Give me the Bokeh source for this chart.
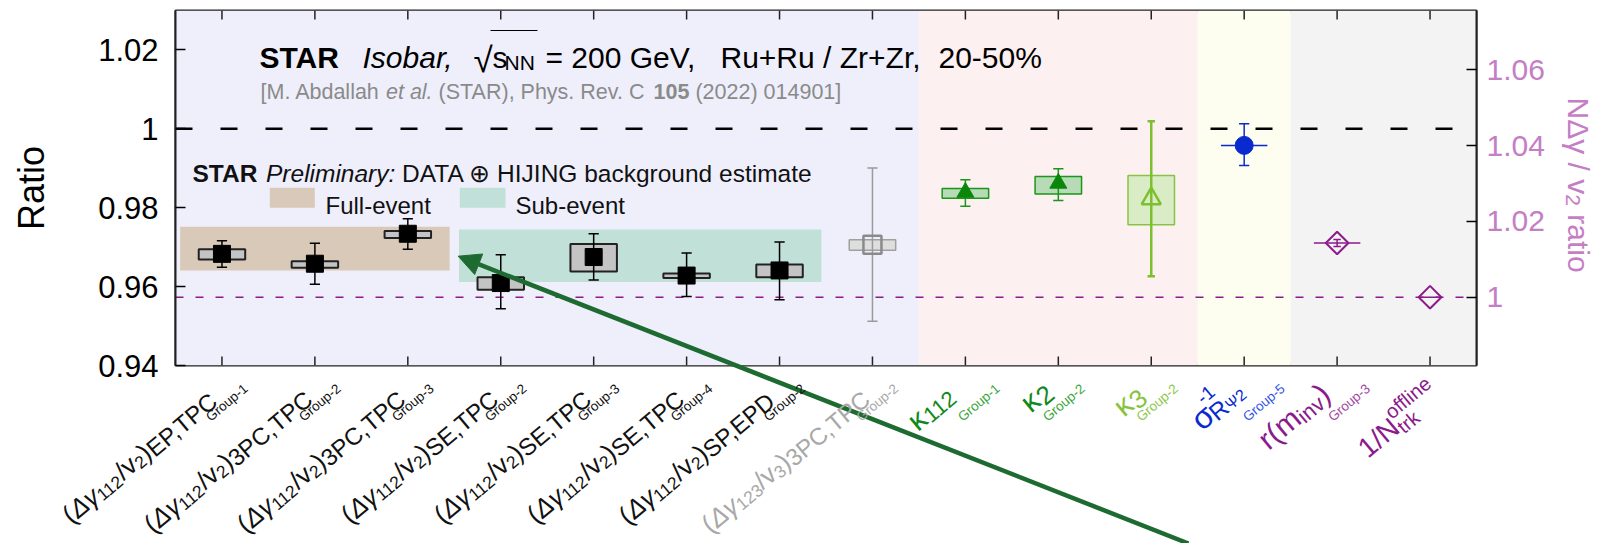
import math
from bokeh.plotting import figure
from bokeh.layouts import column
from bokeh.models import (Range1d, LinearAxis, FixedTicker, NumeralTickFormatter,
                          Label, Arrow, NormalHead)
from bokeh.embed import file_html
from bokeh.resources import INLINE

FONT = "Liberation Sans"

# ---------------- data ----------------
dg112_x = [0, 1, 2, 3, 4, 5, 6]
dg112_val = [0.9683, 0.9658, 0.9734, 0.9609, 0.9675, 0.9628, 0.9641]
dg112_stat_lo = [0.9649, 0.9606, 0.9695, 0.9544, 0.9617, 0.9575, 0.9567]
dg112_stat_hi = [0.9716, 0.9710, 0.9772, 0.9681, 0.9734, 0.9685, 0.9713]
dg112_sys_lo = [0.9669, 0.9648, 0.9723, 0.9592, 0.9638, 0.9622, 0.9624]
dg112_sys_hi = [0.9695, 0.9664, 0.9741, 0.9624, 0.9708, 0.9633, 0.9656]

dg123_x = [7]
dg123_val = [0.9706]
dg123_stat_lo = [0.9512]
dg123_stat_hi = [0.9901]
dg123_sys_lo = [0.9692]
dg123_sys_hi = [0.9719]

kappa_x = [8, 9]
kappa_val = [0.9839, 0.9862]
kappa_stat_lo = [0.9804, 0.9818]
kappa_stat_hi = [0.9871, 0.9899]
kappa_sys_lo = [0.9824, 0.9835]
kappa_sys_hi = [0.9849, 0.9879]

kappa3_x = [10]
kappa3_val = [0.9823]
kappa3_stat_lo = [0.9626]
kappa3_stat_hi = [1.0019]
kappa3_sys_lo = [0.9757]
kappa3_sys_hi = [0.9882]

sigma_x = [11]
sigma_val = [0.9958]
sigma_stat_lo = [0.9907]
sigma_stat_hi = [1.0013]
sigma_xerr = [0.25]

# right axis (N Delta gamma / v2 ratio)
nratio_x = [12, 13]
nratio_val = [1.0143, 1.0000]
nratio_stat_lo = [1.0134, 1.0000]
nratio_stat_hi = [1.0152, 1.0000]
nratio_xerr = [0.25, 0.13]

full_event_band = [-0.45, 2.45, 0.9641, 0.9752]   # x0, x1, y0, y1
sub_event_band = [2.55, 6.45, 0.9612, 0.9745]

region_edges = [-0.5, 7.5, 10.5, 11.5, 13.5]
region_colors = ["#efeffc", "#fdf0f0", "#fefef0", "#f3f3f3"]

left_ticks = [0.94, 0.96, 0.98, 1.0, 1.02]
right_ticks = [1.0, 1.02, 1.04, 1.06]
x_ticks = list(range(14))

tick_rest = ["EP,TPC", "3PC,TPC", "3PC,TPC", "SE,TPC", "SE,TPC", "SE,TPC", "SP,EPD", "3PC,TPC"]
tick_order = ["112", "112", "112", "112", "112", "112", "112", "123"]
tick_vn = ["2", "2", "2", "2", "2", "2", "2", "3"]
tick_groups = ["Group-1", "Group-2", "Group-3", "Group-2", "Group-3", "Group-4", "Group-2",
               "Group-2", "Group-1", "Group-2", "Group-2", "Group-5", "Group-3", ""]

XR = (-0.5, 13.5)
YR = (0.94, 1.03)
YR_RIGHT = (0.98198, 1.07565)

# ---------------- geometry helpers (page px -> data) ----------------
W, H = 1608, 543
FL, FR, FT, FB = 175.0, 1476.0, 10.0, 365.0


def dx(X):
    return XR[0] + (X - FL) / (FR - FL) * (XR[1] - XR[0])


def dy(Y):
    return YR[0] + (FB - Y) / (FB - FT) * (YR[1] - YR[0])


def px(x):
    return FL + (x - XR[0]) / (XR[1] - XR[0]) * (FR - FL)


AW = {' ': 278, '(': 333, ')': 333, '+': 584, ',': 278, '-': 333, '.': 278, '/': 278,
      ':': 278, '=': 584, '[': 278, ']': 278, '%': 889,
      'A': 667, 'B': 667, 'C': 722, 'D': 722, 'E': 667, 'F': 611, 'G': 778, 'H': 722,
      'I': 278, 'J': 500, 'K': 667, 'L': 556, 'M': 833, 'N': 722, 'O': 778, 'P': 667,
      'Q': 778, 'R': 722, 'S': 667, 'T': 611, 'U': 722, 'V': 667, 'W': 944, 'X': 667,
      'Y': 667, 'Z': 611,
      'a': 556, 'b': 556, 'c': 500, 'd': 556, 'e': 556, 'f': 278, 'g': 556, 'h': 556,
      'i': 222, 'j': 222, 'k': 500, 'l': 222, 'm': 833, 'n': 556, 'o': 556, 'p': 556,
      'q': 556, 'r': 333, 's': 500, 't': 278, 'u': 556, 'v': 500, 'w': 722, 'x': 500,
      'y': 500, 'z': 500, 'Δ': 668, 'γ': 500, 'κ': 520, 'σ': 570, 'Ψ': 800,
      '√': 549, '⊕': 800}
BW = {'A': 722, 'R': 722, 'S': 667, 'T': 611, 'r': 389, 'a': 556}


def textw(t, size, style="normal"):
    tot = 0
    for ch in t:
        w = AW.get(ch, 556)
        if style == "bold":
            w = BW.get(ch, w)
        tot += w
    return tot * size / 1000.0


# ================= main plot =================
p = figure(width=W, height=H, output_backend="svg", toolbar_location=None,
           x_range=Range1d(*XR), y_range=Range1d(*YR),
           min_border_left=int(FL), min_border_right=int(W - FR), min_border_top=int(FT),
           min_border_bottom=int(H - FB))
p.extra_y_ranges = {"right": Range1d(*YR_RIGHT)}
p.background_fill_color = "white"
p.border_fill_color = "white"
p.outline_line_color = "#222222"
p.outline_line_width = 2
p.xgrid.visible = False
p.ygrid.visible = False
p.xaxis.visible = False

ya = p.yaxis[0]
ya.ticker = FixedTicker(ticks=left_ticks)
ya.formatter = NumeralTickFormatter(format="0.[00]")
ya.major_tick_in = 10
ya.major_tick_out = 0
ya.minor_tick_line_color = None
ya.major_tick_line_width = 1.5
ya.axis_line_width = 2
ya.axis_line_color = "#222222"
ya.major_label_text_font = FONT
ya.major_label_text_font_size = "31px"
ya.major_label_text_color = "black"
ya.major_label_standoff = 17
ya.axis_label = "Ratio"
ya.axis_label_text_font = FONT
ya.axis_label_text_font_size = "36px"
ya.axis_label_text_font_style = "normal"
ya.axis_label_text_color = "black"
ya.axis_label_standoff = 43

ra = LinearAxis(y_range_name="right", ticker=FixedTicker(ticks=right_ticks),
                formatter=NumeralTickFormatter(format="0.[00]"))
ra.major_tick_in = 10
ra.major_tick_out = 0
ra.minor_tick_line_color = None
ra.major_tick_line_width = 1.5
ra.axis_line_width = 2
ra.axis_line_color = "#222222"
ra.major_label_text_font = FONT
ra.major_label_text_font_size = "30px"
ra.major_label_text_color = "#c47ec4"
ra.major_label_standoff = 10
p.add_layout(ra, "right")

# backgrounds
p.quad(left=region_edges[:-1], right=region_edges[1:], bottom=[YR[0]] * 4, top=[YR[1]] * 4,
       fill_color=region_colors, line_color=None)
p.quad(left=[full_event_band[0]], right=[full_event_band[1]],
       bottom=[full_event_band[2]], top=[full_event_band[3]],
       fill_color="#d9c9b8", line_color=None)
p.quad(left=[sub_event_band[0]], right=[sub_event_band[1]],
       bottom=[sub_event_band[2]], top=[sub_event_band[3]],
       fill_color="#c0e0d8", line_color=None)

# top / bottom inward ticks
tick_len = 9 / (FB - FT) * (YR[1] - YR[0])
p.segment(x0=x_ticks, x1=x_ticks, y0=[YR[1]] * 14, y1=[YR[1] - tick_len] * 14,
          line_color="#222222", line_width=1.5)
p.segment(x0=x_ticks, x1=x_ticks, y0=[YR[0]] * 14, y1=[YR[0] + tick_len] * 14,
          line_color="#222222", line_width=1.5)

# reference lines
p.line(x=[XR[0], dx(1453)], y=[1.0, 1.0],
       line_color="black", line_width=2.5, line_dash="17 28")
p.line(x=list(XR), y=[1.0, 1.0], y_range_name="right",
       line_color="#8b1a8b", line_width=1.5, line_dash="8 12")

BOXW = 0.25
CAP = 0.055


def errbars(x, lo, hi, color, width, cap, **kw):
    p.segment(x0=x, x1=x, y0=lo, y1=hi, line_color=color, line_width=width, **kw)
    if cap:
        p.segment(x0=[v - cap for v in x], x1=[v + cap for v in x], y0=lo, y1=lo,
                  line_color=color, line_width=width, **kw)
        p.segment(x0=[v - cap for v in x], x1=[v + cap for v in x], y0=hi, y1=hi,
                  line_color=color, line_width=width, **kw)


def sysbox(x, lo, hi, fill, line, width=1.5):
    p.quad(left=[v - BOXW for v in x], right=[v + BOXW for v in x], bottom=lo, top=hi,
           fill_color=fill, line_color=line, line_width=width)


sysbox(dg112_x, dg112_sys_lo, dg112_sys_hi, "#c4c4c4", "#222222", 2)
errbars(dg112_x, dg112_stat_lo, dg112_stat_hi, "black", 1.5, CAP)
p.scatter(dg112_x, dg112_val, marker="square", size=17, fill_color="black", line_color="black")

sysbox(dg123_x, dg123_sys_lo, dg123_sys_hi, "#dedede", "#a0a0a0", 1.5)
errbars(dg123_x, dg123_stat_lo, dg123_stat_hi, "#9a9a9a", 1.5, CAP)
p.scatter(dg123_x, dg123_val, marker="square", size=18, fill_alpha=0,
          line_color="#8a8a8a", line_width=2.5)

sysbox(kappa_x, kappa_sys_lo, kappa_sys_hi, "#b6dbb6", "#1a961a", 1.5)
errbars(kappa_x, kappa_stat_lo, kappa_stat_hi, "#1a961a", 1.5, CAP)
p.scatter(kappa_x, kappa_val, marker="triangle", size=17, fill_color="#0a870a",
          line_color="#0a870a")

sysbox(kappa3_x, kappa3_sys_lo, kappa3_sys_hi, "#d9ecc6", "#88c444", 1.5)
errbars(kappa3_x, kappa3_stat_lo, kappa3_stat_hi, "#7cbf2f", 2.5, 0.04)
p.scatter(kappa3_x, kappa3_val, marker="triangle", size=19, fill_alpha=0,
          line_color="#7cbf2f", line_width=2.5)

errbars(sigma_x, sigma_stat_lo, sigma_stat_hi, "#0a2ad0", 1.5, CAP)
p.segment(x0=[v - e for v, e in zip(sigma_x, sigma_xerr)],
          x1=[v + e for v, e in zip(sigma_x, sigma_xerr)],
          y0=sigma_val, y1=sigma_val, line_color="#0a2ad0", line_width=1.5)
p.scatter(sigma_x, sigma_val, marker="circle", size=18, fill_color="#0a2ad0", line_color="#0a2ad0")

p.segment(x0=[v - e for v, e in zip(nratio_x, nratio_xerr)],
          x1=[v + e for v, e in zip(nratio_x, nratio_xerr)],
          y0=nratio_val, y1=nratio_val, line_color="#8b1a8b", line_width=1.5,
          y_range_name="right")
errbars(nratio_x[:1], nratio_stat_lo[:1], nratio_stat_hi[:1], "#8b1a8b", 1.5, 0.04,
        y_range_name="right")
p.scatter(nratio_x, nratio_val, marker="square", angle=math.pi / 4, size=16, fill_alpha=0,
          line_color="#8b1a8b", line_width=2, y_range_name="right")


# ---------------- text helpers ----------------
def put_text(fig, text, X, Y, size, color, style="normal", angle=0.0, align="left",
             baseline="alphabetic"):
    fig.add_layout(Label(x=dx(X), y=dy(Y), text=text, angle=angle, text_font=FONT,
                         text_font_size=f"{size}px", text_color=color,
                         text_font_style=style, text_align=align,
                         text_baseline=baseline))


def put_run(fig, pieces, X, Y, size, color):
    x = X
    for t, st in pieces:
        lead = len(t) - len(t.lstrip(" "))
        x0 = x + textw(" " * lead, size, st)
        put_text(fig, t.strip(" "), x0, Y, size, color, st)
        x += textw(t, size, st)


def put_rotated(fig, segs, AX, AY, a, color, align_end=True):
    ca, sa = math.cos(a), math.sin(a)
    total = sum(textw(t, s, st) for (t, s, v, st, adv) in segs if adv)
    u = -total if align_end else 0.0
    for t, s, v, st, adv in segs:
        lead = len(t) - len(t.lstrip(" "))
        uu = u + textw(" " * lead, s, st)
        X = AX + uu * ca - v * sa
        Y = AY - uu * sa - v * ca
        put_text(fig, t.strip(" "), X, Y, s, color, st, angle=a)
        if adv:
            u += textw(t, s, st)


# title inside the frame
put_text(p, "STAR", 259, 57, 30, "black", "bold")
put_text(p, "Isobar,", 362, 57, 30, "black", "italic")
put_text(p, "√", 473, 59, 35, "black")
put_text(p, "s", 492, 57, 30, "black")
put_text(p, "NN", 504, 62, 21, "black")
p.segment(x0=[dx(490)], x1=[dx(537)], y0=[dy(30)], y1=[dy(30)], line_color="black", line_width=1.2)
put_text(p, "= 200 GeV,", 545, 57, 30, "black")
put_text(p, "Ru+Ru / Zr+Zr,", 720, 57, 30, "black")
put_text(p, "20-50%", 938, 57, 30, "black")

put_run(p, [("[M. Abdallah ", "normal"), ("et al.", "italic"), (" (STAR), Phys. Rev. C ", "normal"),
            ("105", "bold"), (" (2022) 014901]", "normal")], 260, 91, 21.5, "#8a8a8a")

put_run(p, [("STAR", "bold"), (" Preliminary:", "italic"),
            (" DATA ⊕ HIJING background estimate", "normal")], 192, 173, 24.5, "#111111")

# legend swatches
p.quad(left=[dx(269.3), dx(459.3)], right=[dx(314.3), dx(505)],
       bottom=[dy(207.3)] * 2, top=[dy(187.3)] * 2,
       fill_color=["#d9c9b8", "#c0e0d8"], line_color=None)
put_text(p, "Full-event", 325, 205, 24, "#111111")
put_text(p, "Sub-event", 515, 205, 24, "#111111")

# ================= transparent overlay for texts outside the frame =================
q = figure(width=W, height=H, output_backend="svg", toolbar_location=None,
           x_range=Range1d(dx(0), dx(W)), y_range=Range1d(dy(H), dy(0)),
           x_axis_location=None, y_axis_location=None,
           min_border=0, min_border_left=0, min_border_right=0, min_border_top=0,
           min_border_bottom=0)
q.background_fill_color = None
q.border_fill_color = None
q.outline_line_color = None
q.xgrid.visible = False
q.ygrid.visible = False
q.margin = (-H, 0, 0, 0)
if "frame_align" in q.properties():
    q.frame_align = False
else:
    q.x_range = Range1d(*XR)

# arrow
q.add_layout(Arrow(end=NormalHead(size=22, fill_color="#1e6b32", line_color="#1e6b32"),
                   x_start=dx(1188), y_start=dy(543), x_end=dx(457.7), y_end=dy(255.7),
                   line_color="#1e6b32", line_width=4.5))

# right axis title (reads top to bottom)
put_rotated(q, [("NΔγ / v", 30, 0, "normal", True), ("2", 21, -6, "normal", True),
                (" ratio", 30, 0, "normal", True)], 1578, 97, -math.pi / 2, "#c47ec4",
            align_end=False)

# x tick labels
A = math.radians(40)
S, SS, S2 = 26, 17.5, 24
anchor_dx = [-8, -8, -8, -8, -8, -8, -8, -8, -14, -11, -11, -5.5, -11.5, -17.7]
anchor_y = [393, 393, 393, 393, 393, 393, 393, 393, 390, 386, 390, 386, 389, 409]
group_dx = [-14, -14, -14, -14, -14, -14, -14, -14, -5.5, -13.4, -13, 0.7, -7, 0]
group_y = 418
GS = 13.5

label_colors = ["#111111"] * 7 + ["#a8a8a8", "#10891a", "#10891a", "#86c440", "#0a2ad0",
                                  "#8b1a8b", "#8b1a8b"]
group_colors = ["#111111"] * 7 + ["#a8a8a8", "#3aa63a", "#3aa63a", "#8cc84a", "#3355e6",
                                  "#a447a4", "#a447a4"]

main_segs = []
for i in range(8):
    main_segs.append([("(", S, 0, "normal", True), ("Δγ", S, 0, "italic", True),
                      (tick_order[i], SS, -5, "normal", True), ("/", S, 0, "normal", True),
                      ("v", S, 0, "normal", True), (tick_vn[i], SS, -5, "normal", True),
                      (")", S, 0, "normal", True), (tick_rest[i], S2, -3, "normal", True)])
main_segs.append([("κ", 30, 0, "normal", True), ("112", 22, -5, "normal", True)])
main_segs.append([("κ", 30, 0, "normal", True), ("2", 26, -5, "normal", True)])
main_segs.append([("κ", 30, 0, "normal", True), ("3", 26, -5, "normal", True)])
main_segs.append([("σ", 32, 0, "normal", True), ("-1", 19, 15, "normal", False),
                  ("R", 24, -5, "normal", True), ("Ψ2", 16, -8, "normal", True)])
main_segs.append([("r(m", 30, 0, "normal", True), ("inv", 22, -6, "normal", True),
                  (")", 30, 0, "normal", True)])
main_segs.append([("1/N", 28, 0, "normal", True), ("offline", 20, 12, "normal", False),
                  ("trk", 20, -7, "normal", True)])

for i in range(14):
    AX = px(x_ticks[i]) + anchor_dx[i]
    AY = anchor_y[i]
    put_rotated(q, main_segs[i], AX, AY, A, label_colors[i])
    if tick_groups[i]:
        put_rotated(q, [(tick_groups[i], GS, 0, "normal", True)],
                    px(x_ticks[i]) + group_dx[i], group_y, A,
                    group_colors[i], align_end=False)

layout = column(p, q, spacing=0)
open("out.html", "w").write(file_html(layout, INLINE))
